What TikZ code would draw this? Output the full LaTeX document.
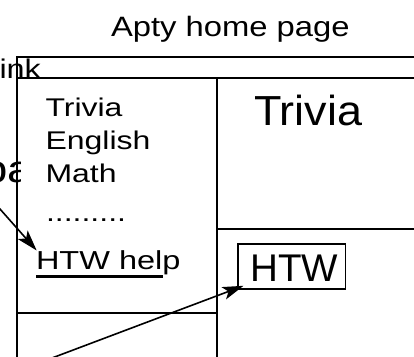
\documentclass[tikz,border=0pt]{standalone}
\usepackage{fontspec}
\setmainfont{Liberation Sans}
\usetikzlibrary{arrows.meta}
\newcommand{\tx}[3]{\fontsize{#1bp}{#1bp}\selectfont\scalebox{#2}[1]{#3}}
\tikzset{
  lbl/.style={anchor=base west, inner sep=0pt, outer sep=0pt},
  frame/.style={line width=1.5bp, line cap=rect},
  arr/.style={-{Stealth[length=21bp,width=13bp,inset=5bp]}, line width=1.6bp},
}
\begin{document}
\begin{tikzpicture}[x=1bp,y=-1bp]
\useasboundingbox (0,0) rectangle (414,357);
% partial labels at the left edge
\node[lbl] (lnk) at (-0.5,78) {\tx{27}{1.2}{ink}};
\begin{scope}
  \clip (-30,150) rectangle (20,195);
  \node[lbl] (pg) at (-17.5,182) {\tx{38}{1.2}{pa}};
\end{scope}
% title
\node[lbl] (title) at (111,36.7) {\tx{28}{1.17}{Apty home page}};
% frame
\draw[frame] (420,57) -- (17,57) -- (17,360);
\draw[frame] (17,78) -- (420,78);
\draw[frame] (217,78) -- (217,360);
\draw[frame] (217,229) -- (420,229);
\draw[frame] (17,313) -- (217,313);
% left column
\node[lbl] (l1) at (45.5,116.7) {\tx{25.6}{1.25}{Trivia}};
\node[lbl] (l2) at (45.5,149) {\tx{25.6}{1.25}{English}};
\node[lbl] (l3) at (45.5,182) {\tx{25.6}{1.25}{Math}};
\node[lbl] (l4) at (46,221) {\tx{25.6}{1.25}{.........}};
\node[lbl] (help) at (36,269.3) {\tx{26}{1.25}{HTW help}};
\draw[line width=2.6bp] (36,276.3) -- (163,276.3);
% right column
\node[lbl] (rt) at (254,125) {\tx{42}{1.07}{Trivia}};
\node[draw, line width=1.4bp, anchor=north west, inner sep=0pt,
      minimum width=107.7bp, minimum height=45bp] (htwbox) at (237.3,243.3) {};
\node[lbl] (htw) at (250.5,281) {\tx{38.6}{1.0}{HTW}};
% arrows
\coordinate (s1) at (-8,200);
\coordinate (t1) at (36.7,250.5);
\coordinate (s2) at (48,359.5);
\coordinate (t2) at (243.5,285.8);
\draw[arr] (s1) -- (t1);
\draw[arr] (s2) -- (t2);
\end{tikzpicture}
\end{document}
